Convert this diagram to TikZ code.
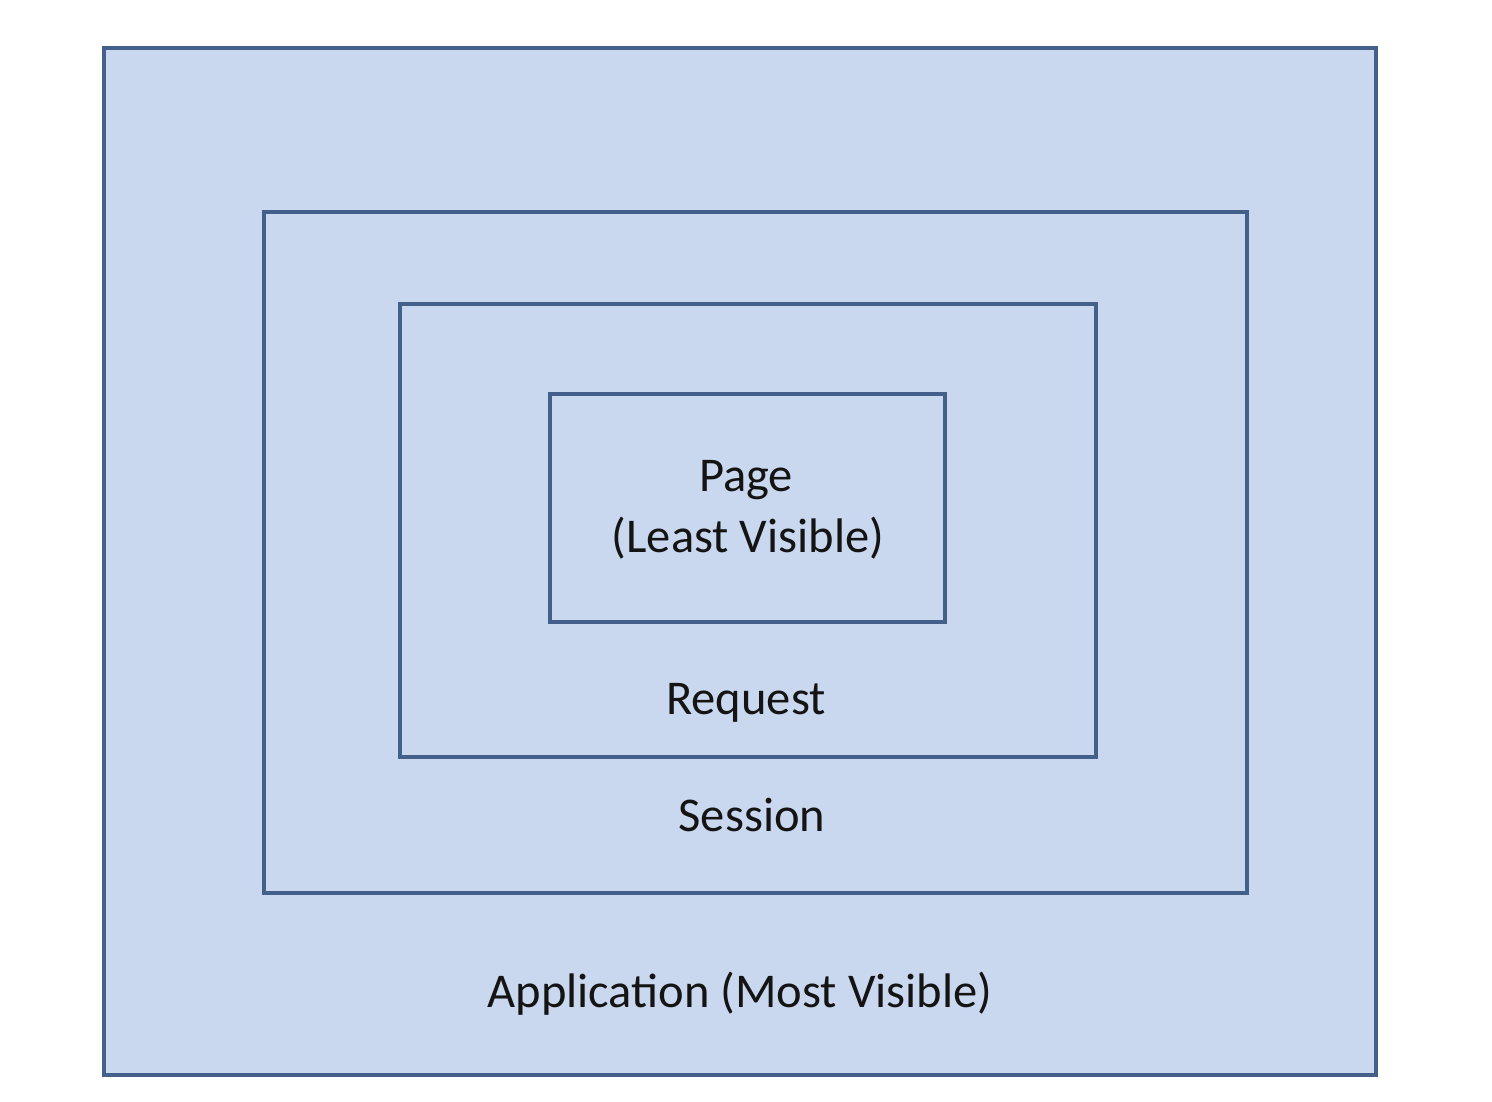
\documentclass[tikz,border=0pt]{standalone}
\usepackage{fontspec}
\setmainfont{Carlito}
\definecolor{boxfill}{HTML}{C9D8EE}
\definecolor{boxline}{HTML}{42608A}
\begin{document}
\begin{tikzpicture}[x=1pt,y=-1pt,
  scopebox/.style={draw=boxline,fill=boxfill,line width=4.5pt},
  lbl/.style={font=\fontsize{48.5}{58}\selectfont,text=black!92,inner sep=0pt,anchor=center}]
\useasboundingbox (0,0) rectangle (1492,1102);
\fill[white] (0,0) rectangle (1492,1102);
\draw[scopebox] (104,48) rectangle (1376,1075);
\draw[scopebox] (264,212) rectangle (1247,893);
\draw[scopebox] (400,304) rectangle (1096,757);
\draw[scopebox] (550,394) rectangle (945,622);
\node[lbl] (page) at (746,480) {Page};
\node[lbl] (least) at (748,538) {(Least Visible)};
\node[lbl] (req) at (746,703) {Request};
\node[lbl] (sess) at (752,815) {Session};
\node[lbl] (app) at (740,994) {Application (Most Visible)};
\end{tikzpicture}
\end{document}
